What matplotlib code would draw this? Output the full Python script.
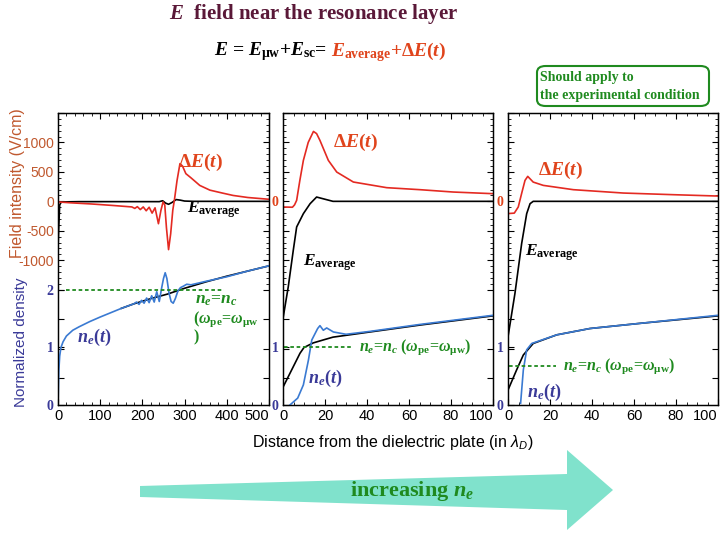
import numpy as np
import matplotlib.pyplot as plt
from matplotlib.patches import Polygon, FancyBboxPatch
from matplotlib.ticker import MultipleLocator, FixedLocator

plt.rcParams['mathtext.fontset'] = 'custom'
plt.rcParams['mathtext.rm'] = 'Liberation Serif:bold'
plt.rcParams['mathtext.it'] = 'Liberation Serif:bold:italic'
plt.rcParams['mathtext.bf'] = 'Liberation Serif:bold'
plt.rcParams['mathtext.sf'] = 'Liberation Sans:italic'
plt.rcParams['font.family'] = 'Liberation Sans'

# ---- data ----
# panel 1 (x in lambda_D, 0..500)
p1_red_x = [0, 30, 80, 130, 175, 182, 188, 195, 202, 209, 216, 223, 230, 238, 244, 249, 253,
            257, 262, 267, 272, 276, 282, 289, 295, 303, 315, 336, 360, 390, 415, 450, 500]
p1_red_y = [-10, -25, -45, -70, -95, -120, -90, -140, -95, -160, -100, -200, -110, -380, -150, -10, -60,
            -450, -820, -550, -150, 30, 350, 640, 600, 470, 400, 270, 190, 140, 100, 65, 35]
p1_blk_x = [0, 2, 4, 8, 50, 240, 248, 255, 262, 270, 280, 290, 300, 320, 500]
p1_blk_y = [-800, -400, -60, -10, -5, -5, 10, -30, -50, -20, 30, 20, 5, 0, 0]
p1_blue_x = [0, 1, 2, 4, 7, 12, 20, 35, 50, 75, 100, 150, 180, 186, 192, 198, 204, 210, 216, 222,
             228, 234, 240, 246, 250, 254, 258, 263, 268, 273, 278, 284, 290, 298, 305, 315, 350,
             400, 450, 500]
p1_blue_y = [0, 0.3, 0.6, 0.85, 1.0, 1.1, 1.2, 1.3, 1.36, 1.45, 1.53, 1.68, 1.76, 1.79, 1.75, 1.82,
             1.77, 1.86, 1.78, 1.90, 1.79, 1.97, 1.80, 2.05, 2.20, 2.30, 2.20, 1.95, 1.80, 1.77,
             1.85, 1.98, 2.04, 2.07, 2.10, 2.09, 2.15, 2.23, 2.33, 2.42]
p1_nden_x = [150, 180, 220, 260, 300, 350, 400, 450, 500]
p1_nden_y = [1.68, 1.76, 1.85, 1.93, 2.03, 2.14, 2.24, 2.33, 2.42]

# panel 2 (0..100)
p2_red_x = [0, 4.5, 5.5, 6.5, 8, 9.7, 12, 14.5, 16, 17.6, 21.6, 25.6, 33.5, 49.4, 65.2, 81.1, 100]
p2_red_y = [-96, -100, -60, 17, 350, 695, 1000, 1187, 1150, 1034, 695, 497, 328, 232, 198, 158, 130]
p2_blk_x = [0, 2.5, 4.9, 6.5, 9.7, 12.9, 16, 20.8, 23.8, 100]
p2_blk_y = [-1989, -1452, -830, -435, -209, -40, 73, 28, 0, 0]
p2_nden_x = [0, 3.3, 8.1, 10, 14.4, 20, 23.8, 41.4, 65.2, 100]
p2_nden_y = [0.31, 0.55, 0.9, 1.0, 1.08, 1.14, 1.18, 1.27, 1.39, 1.55]
p2_blue_x = [3.3, 7, 9.7, 12.1, 13.7, 16.5, 17.6, 19.2, 20.8, 24, 30, 41.4, 65, 100]
p2_blue_y = [0, 0.12, 0.35, 0.78, 1.13, 1.33, 1.38, 1.30, 1.34, 1.27, 1.23, 1.28, 1.40, 1.56]

# panel 3 (0..100)
p3_red_x = [0, 3, 4.9, 6.5, 8.1, 9.4, 12, 16.8, 31.1, 54.9, 78.7, 100]
p3_red_y = [-208, -200, -95, 135, 356, 424, 327, 271, 198, 141, 113, 90]
p3_blk_x = [0, 3.3, 6.5, 8.9, 10.5, 12, 100]
p3_blk_y = [-2300, -1565, -717, -209, -40, 0, 0]
p3_nden_x = [0, 4.1, 7.3, 12, 23.2, 39, 62.9, 100]
p3_nden_y = [0.26, 0.61, 0.87, 1.07, 1.22, 1.33, 1.42, 1.55]
p3_blue_x = [6, 7.3, 8.9, 11.3, 23.2, 39, 62.9, 100]
p3_blue_y = [0.03, 0.61, 0.96, 1.07, 1.22, 1.33, 1.42, 1.56]

# resonance density levels (green dotted lines)
res_level = [2.0, 1.0, 0.68]
res_span = [(19, 394), (0.5, 33), (0.5, 23)]

RED = '#e42a22'
ORANGE = '#e0441c'
BLUE = '#3a7ad2'
NAVY = '#3a3a98'
GREEN = '#1f8a1f'
BROWN = '#c0582e'

W, H = 720, 540
fig = plt.figure(figsize=(7.2, 5.4), dpi=100)


def rect(x0, x1, y0=113, y1=405):
    return [x0 / W, 1 - y1 / H, (x1 - x0) / W, (y1 - y0) / H]


def panel(r, xmax, xmaj, xmin):
    ax = fig.add_axes(r)
    ax.set_xlim(0, xmax)
    ax.set_ylim(-3458, 1492)
    ax2 = ax.twinx()
    ax2.set_ylim(0, 5.078)
    ax2.yaxis.tick_left()
    xt = list(range(0, xmax + 1, xmaj))
    ax.set_xticks(xt, [str(v) for v in xt], fontsize=10.5)
    ax.get_xticklabels()[-1].set_ha('right')
    ax.xaxis.set_minor_locator(MultipleLocator(xmin))
    ax.tick_params(axis='x', which='both', direction='in', top=True, pad=3)
    ax.tick_params(axis='x', which='major', length=4)
    ax.tick_params(axis='x', which='minor', length=2)
    ax.tick_params(axis='y', which='both', direction='in', left=True, right=True, pad=3)
    ax.tick_params(axis='y', which='major', length=4)
    ax.tick_params(axis='y', which='minor', length=2)
    ax.yaxis.set_minor_locator(FixedLocator(np.arange(-1400, 1500, 100)))
    ax2.tick_params(axis='y', direction='in', length=4, pad=3, labelcolor=NAVY)
    for a in (ax, ax2):
        for s in a.spines.values():
            s.set_linewidth(0.9)
    return ax, ax2


fticks = list(range(-3000, 1501, 500))

# panel 1
ax, ax2 = panel(rect(58, 269), 500, 100, 20)
flabels = [str(v) if -1000 <= v <= 1000 else '' for v in fticks]
ax.set_yticks(fticks, flabels, color=BROWN, fontsize=10)
ax2.set_yticks([0, 1, 2], ['0', '1', '2'], family='Liberation Serif', weight='bold', fontsize=10)
ax.plot(p1_blk_x, p1_blk_y, color='black', lw=1.2)
ax.plot(p1_red_x, p1_red_y, color=RED, lw=1.2)
ax2.plot(p1_nden_x, p1_nden_y, color='black', lw=1.2)
ax2.plot(p1_blue_x, p1_blue_y, color=BLUE, lw=1.2)
ax2.plot(res_span[0], [res_level[0]] * 2, color=GREEN, lw=1.3, ls=(0, (2, 1.5)))
ax.text(284, 661, r'$\Delta E(t)$', color=ORANGE, fontsize=14, va='center')
ax.text(305, -150, r'$E_{\mathrm{average}}$', color='black', fontsize=12.5, va='center')
ax2.text(325, 1.83, r'$n_e$=$n_c$', color=GREEN, fontsize=12.5, va='center',
         family='Liberation Serif', weight='bold')
ax2.text(320, 1.49, r'($\omega_{\mathrm{pe}}$=$\omega_{\mathrm{\mu w}}$', color=GREEN, fontsize=11.5,
         va='center', family='Liberation Serif', weight='bold')
ax2.text(320, 1.18, ')', color=GREEN, fontsize=11.5, va='center', family='Liberation Serif', weight='bold')
ax2.text(45, 1.17, r'$n_e(t)$', color=NAVY, fontsize=13, va='center')

# panel 2
ax, ax2 = panel(rect(283, 493), 100, 20, 5)
ax.set_yticks(fticks, ['0' if v == 0 else '' for v in fticks], color=ORANGE,
              family='Liberation Serif', weight='bold', fontsize=10)
ax2.set_yticks([0, 1], ['0', '1'], family='Liberation Serif', weight='bold', fontsize=10)
ax.plot(p2_blk_x, p2_blk_y, color='black', lw=1.2)
ax.plot(p2_red_x, p2_red_y, color=RED, lw=1.2)
ax2.plot(p2_nden_x, p2_nden_y, color='black', lw=1.2)
ax2.plot(p2_blue_x, p2_blue_y, color=BLUE, lw=1.2)
ax2.plot(res_span[1], [res_level[1]] * 2, color=GREEN, lw=1.3, ls=(0, (2, 1.5)))
ax.text(23.8, 1000, r'$\Delta E(t)$', color=ORANGE, fontsize=14, va='center')
ax.text(9.5, -1050, r'$E_{\mathrm{average}}$', color='black', fontsize=12.5, va='center')
ax2.text(36, 1.0, r'$n_e$=$n_c$ ($\omega_{\mathrm{pe}}$=$\omega_{\mathrm{\mu w}}$)', color=GREEN,
         fontsize=11.5, va='center', family='Liberation Serif', weight='bold')
ax2.text(12, 0.47, r'$n_e(t)$', color=NAVY, fontsize=13, va='center')

# panel 3
ax, ax2 = panel(rect(508, 718), 100, 20, 5)
ax.set_yticks(fticks, ['0' if v == 0 else '' for v in fticks], color=ORANGE,
              family='Liberation Serif', weight='bold', fontsize=10)
ax2.set_yticks([0, 1], ['0', '1'], family='Liberation Serif', weight='bold', fontsize=10)
ax.plot(p3_blk_x, p3_blk_y, color='black', lw=1.2)
ax.plot(p3_red_x, p3_red_y, color=RED, lw=1.2)
ax2.plot(p3_nden_x, p3_nden_y, color='black', lw=1.2)
ax2.plot(p3_blue_x, p3_blue_y, color=BLUE, lw=1.2)
ax2.plot(res_span[2], [res_level[2]] * 2, color=GREEN, lw=1.3, ls=(0, (2, 1.5)))
ax.text(14.3, 525, r'$\Delta E(t)$', color=ORANGE, fontsize=14, va='center')
ax.text(8, -880, r'$E_{\mathrm{average}}$', color='black', fontsize=12.5, va='center')
ax2.text(26, 0.68, r'$n_e$=$n_c$ ($\omega_{\mathrm{pe}}$=$\omega_{\mathrm{\mu w}}$)', color=GREEN,
         fontsize=11.5, va='center', family='Liberation Serif', weight='bold')
ax2.text(9, 0.21, r'$n_e(t)$', color=NAVY, fontsize=13, va='center')

# axis labels
fig.text(18 / W, 1 - 183 / H, 'Field intensity (V/cm)', rotation=90, color=BROWN,
         fontsize=11.5, ha='center', va='center')
fig.text(21 / W, 1 - 342 / H, 'Normalized density', rotation=90, color=NAVY,
         fontsize=11, ha='center', va='center')
fig.text(393 / W, 1 - 442 / H, r'Distance from the dielectric plate (in $\mathsf{\lambda_D}$)',
         fontsize=11.5, ha='center', va='center')

# title and equation
fig.text(314 / W, 1 - 14 / H, r'$E$  field near the resonance layer', color='#5a1838',
         family='Liberation Serif', weight='bold', fontsize=15, ha='center', va='center')
fig.text(327 / W, 1 - 52 / H, r'$E$ = $E_{\mathrm{\mu w}}$+$E_{\mathrm{sc}}$=', color='black',
         family='Liberation Serif', weight='bold', fontsize=14, ha='right', va='center')
fig.text(331 / W, 1 - 52 / H, r'$E_{\mathrm{average}}$+$\Delta E(t)$', color=ORANGE,
         family='Liberation Serif', weight='bold', fontsize=14, ha='left', va='center')

# note box
box = FancyBboxPatch((537 / W, 1 - 106 / H), 172 / W, 40 / H,
                     boxstyle='round,pad=0,rounding_size=0.012', transform=fig.transFigure,
                     facecolor='white', edgecolor=GREEN, lw=1.5)
fig.patches.append(box)
fig.text(540 / W, 1 - 77 / H, 'Should apply to', color=GREEN, family='Liberation Serif',
         weight='bold', fontsize=10, va='center')
fig.text(540 / W, 1 - 95 / H, 'the experimental condition', color=GREEN, family='Liberation Serif',
         weight='bold', fontsize=10, va='center')


# big arrow
def fp(pts):
    return [(x / W, 1 - y / H) for x, y in pts]


shaft = Polygon(fp([(140, 486), (567, 474), (567, 510), (140, 497)]), closed=True,
                transform=fig.transFigure, facecolor='#80e2cc', edgecolor='none')
head = Polygon(fp([(567, 450), (613, 490), (567, 530)]), closed=True,
               transform=fig.transFigure, facecolor='#80e2cc', edgecolor='none')
fig.patches.extend([shaft, head])
fig.text(412 / W, 1 - 491 / H, r'increasing $n_e$', color=GREEN, family='Liberation Serif',
         weight='bold', fontsize=16, ha='center', va='center')

fig.savefig('out.png', dpi=100)
